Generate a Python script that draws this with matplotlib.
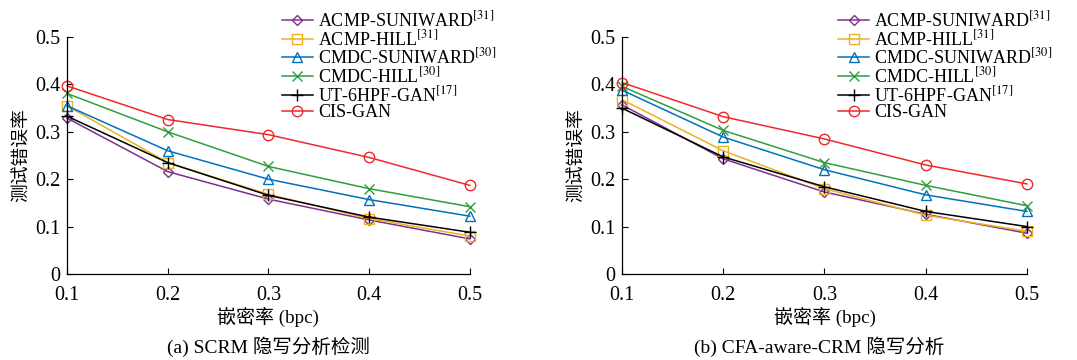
import matplotlib
matplotlib.use("Agg")
import matplotlib.pyplot as plt

plt.rcParams['font.family'] = ['Liberation Serif', 'Noto Sans CJK SC']
plt.rcParams['mathtext.fontset'] = 'stix'

# embedding rate (bpc)
rates = [0.1, 0.2, 0.3, 0.4, 0.5]

names = [r'ACMP-SUNIWARD$^{[31]}$', r'ACMP-HILL$^{[31]}$', r'CMDC-SUNIWARD$^{[30]}$',
         r'CMDC-HILL$^{[30]}$', r'UT-6HPF-GAN$^{[17]}$', 'CIS-GAN']

# (a) SCRM
scrm_acmp_suni = [0.329, 0.216, 0.158, 0.114, 0.074]
scrm_acmp_hill = [0.355, 0.235, 0.168, 0.117, 0.080]
scrm_cmdc_suni = [0.355, 0.260, 0.200, 0.157, 0.122]
scrm_cmdc_hill = [0.381, 0.300, 0.227, 0.180, 0.142]
scrm_ut_gan = [0.333, 0.235, 0.166, 0.120, 0.088]
scrm_cis_gan = [0.397, 0.326, 0.294, 0.246, 0.187]

# (b) CFA-aware-CRM
cfa_acmp_suni = [0.357, 0.243, 0.173, 0.126, 0.086]
cfa_acmp_hill = [0.368, 0.260, 0.180, 0.124, 0.090]
cfa_cmdc_suni = [0.388, 0.289, 0.220, 0.167, 0.132]
cfa_cmdc_hill = [0.396, 0.303, 0.235, 0.187, 0.144]
cfa_ut_gan = [0.350, 0.247, 0.184, 0.132, 0.100]
cfa_cis_gan = [0.404, 0.332, 0.285, 0.230, 0.190]

colors = ['#7E2F8E', '#EDB120', '#0072BD', '#2E9E3E', '#000000', '#F0282A']
markers = ['D', 's', '^', 'x', '+', 'o']
msizes = [5.5, 7.5, 7.5, 7.5, 8.5, 7.5]

fig = plt.figure(figsize=(10.77, 3.6), dpi=100)
ax1 = fig.add_axes([0.0622, 0.239, 0.374, 0.658])
ax2 = fig.add_axes([0.5775, 0.239, 0.376, 0.658])

panels = [
    (ax1, [scrm_acmp_suni, scrm_acmp_hill, scrm_cmdc_suni, scrm_cmdc_hill, scrm_ut_gan, scrm_cis_gan],
     '(a) SCRM 隐写分析检测', 0.2495),
    (ax2, [cfa_acmp_suni, cfa_acmp_hill, cfa_cmdc_suni, cfa_cmdc_hill, cfa_ut_gan, cfa_cis_gan],
     '(b) CFA-aware-CRM 隐写分析', 0.7605),
]

for ax, series, caption, cx in panels:
    for vals, name, c, m, ms in zip(series, names, colors, markers, msizes):
        ax.plot(rates, vals, color=c, marker=m, markersize=ms, markerfacecolor='none',
                markeredgecolor=c, markeredgewidth=1.0, linewidth=1.1, label=name, clip_on=False)
    ax.set_xlim(0.1, 0.5)
    ax.set_ylim(0, 0.5)
    ax.set_xticks(rates)
    ax.set_xticklabels(['0.1', '0.2', '0.3', '0.4', '0.5'])
    ax.set_yticks([0, 0.1, 0.2, 0.3, 0.4, 0.5])
    ax.set_yticklabels(['0', '0.1', '0.2', '0.3', '0.4', '0.5'])
    ax.tick_params(direction='in', length=4, labelsize=14.5, width=0.8)
    ax.tick_params(axis='x', pad=9)
    ax.tick_params(axis='y', pad=5)
    for s in ['top', 'right']:
        ax.spines[s].set_visible(False)
    for s in ['left', 'bottom']:
        ax.spines[s].set_linewidth(0.9)
    ax.set_xlabel('嵌密率 (bpc)', fontsize=13.7, labelpad=1)
    ax.set_ylabel('测试错误率', fontsize=13.5, labelpad=3)
    ax.legend(loc='upper left', bbox_to_anchor=(0.533, 1.113), frameon=False, fontsize=13,
              handlelength=1.75, handletextpad=0.25, labelspacing=-0.07, borderpad=0, borderaxespad=0)
    fig.text(cx, 0.036, caption, ha='center', va='center', fontsize=14)

fig.savefig('out.png', dpi=100)
